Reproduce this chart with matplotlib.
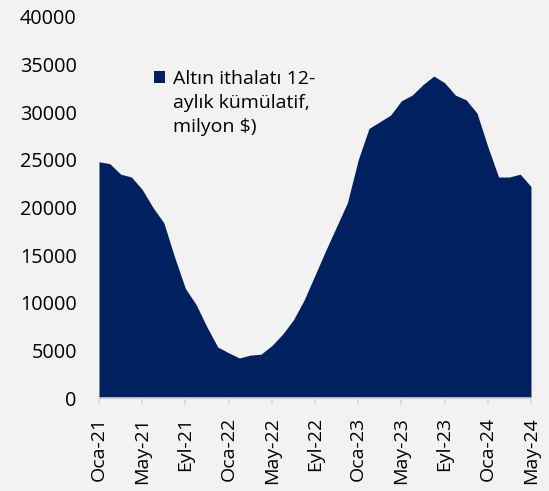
import numpy as np
import matplotlib.pyplot as plt
from matplotlib.patches import Rectangle, Patch
from matplotlib.legend_handler import HandlerPatch

plt.rcParams['font.family'] = ['Open Sans', 'DejaVu Sans']

# monthly, Oca-21 .. May-24
gold_imports = [24800, 24600, 23500, 23200, 21900, 20000, 18400, 14800, 11500, 9800,
                7450, 5350, 4750, 4200, 4500, 4600, 5500, 6700, 8200, 10300,
                12900, 15500, 18000, 20500, 25000, 28300, 29000, 29700, 31200, 31800,
                32900, 33800, 33100, 31800, 31300, 29900, 26400, 23200, 23200, 23500,
                22200]
tick_labels = ["Oca-21", "May-21", "Eyl-21", "Oca-22", "May-22", "Eyl-22",
               "Oca-23", "May-23", "Eyl-23", "Oca-24", "May-24"]
series_name = "Altın ithalatı 12-\naylık kümülatif,\nmilyon $)"

bg = "#f2f2f2"
navy = "#002060"


def top_square(legend, orig_handle, xdescent, ydescent, width, height, fontsize):
    # put the legend square next to the first line of the label
    return Rectangle((-xdescent, -ydescent + 19.0), width, height)


fig = plt.figure(figsize=(5.49, 4.91), dpi=100, facecolor=bg)
ax = fig.add_axes([0.1803, 0.1894, 0.7869, 0.776])
ax.set_facecolor(bg)

x = np.arange(len(gold_imports))
ax.fill_between(x, gold_imports, 0, color=navy, linewidth=0)

ax.set_xlim(0, len(gold_imports) - 1)
ax.set_ylim(0, 40000)
ax.set_yticks(np.arange(0, 40001, 5000))
ax.set_xticks(np.arange(0, len(gold_imports), 4))
ax.set_xticklabels(tick_labels, rotation=90)

for s in ["top", "right", "left"]:
    ax.spines[s].set_visible(False)
ax.spines["bottom"].set_color("#d9d9d9")
ax.spines["bottom"].set_linewidth(1.2)
ax.tick_params(axis="y", length=0, pad=16, labelsize=14.3, colors="#000000")
ax.tick_params(axis="x", length=5, width=1.2, color="#d9d9d9", pad=8.5, labelsize=14)

proxy = Patch(facecolor=navy, edgecolor="none", label=series_name)
leg = ax.legend(handles=[proxy], loc="upper left", bbox_to_anchor=(0.128, 0.86),
                frameon=False, fontsize=14, handlelength=0.57, handleheight=0.57,
                handletextpad=0.4, borderaxespad=0, borderpad=0,
                handler_map={Patch: HandlerPatch(patch_func=top_square)})
for t in leg.get_texts():
    t.set_linespacing(1.42)

fig.savefig("out.png", dpi=100, facecolor=bg)
